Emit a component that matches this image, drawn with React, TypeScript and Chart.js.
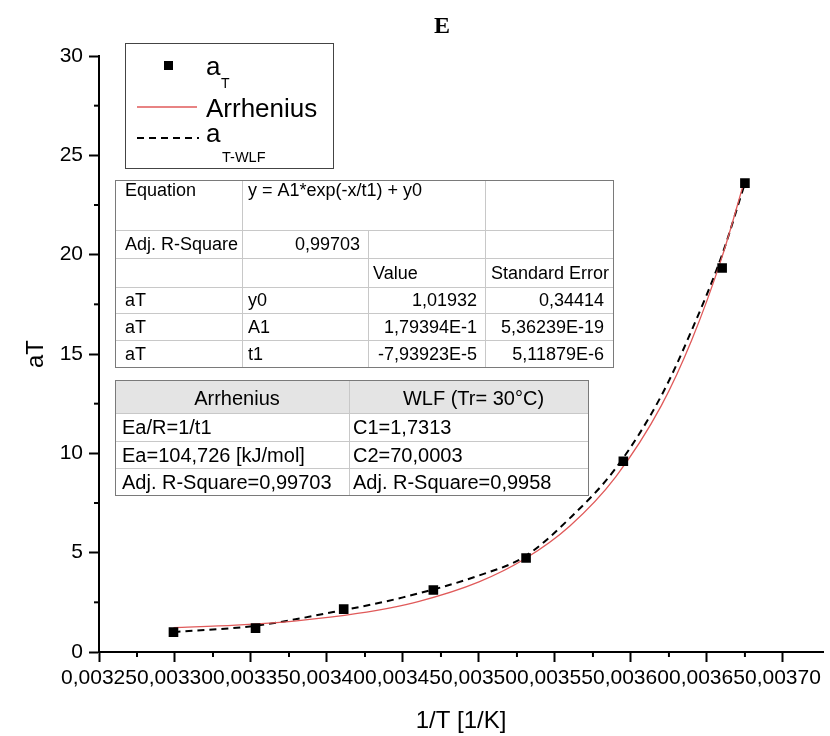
import React, { useEffect, useRef } from 'react';
import { Chart, registerables } from 'chart.js';

Chart.register(...registerables);

// ---------- data ----------
const xTickValues = [0.00325, 0.0033, 0.00335, 0.0034, 0.00345, 0.0035, 0.00355, 0.0036, 0.00365, 0.0037];
const yTickValues = [0, 5, 10, 15, 20, 25, 30];

// measured a_T points
const invT = [0.003299, 0.003353, 0.003411, 0.00347, 0.003531, 0.003595, 0.00366, 0.003675];
const aT = [1.0, 1.2, 2.16, 3.12, 4.73, 9.6, 19.33, 23.6];

// Arrhenius fit curve
const arrX = [0.003299, 0.00334, 0.00338, 0.00342, 0.00346, 0.0035, 0.00353, 0.00356, 0.00359, 0.00362, 0.00364, 0.00366, 0.003675];
const arrY = [1.23, 1.35, 1.57, 1.94, 2.54, 3.53, 4.68, 6.36, 8.82, 12.4, 15.7, 19.9, 23.8];

// WLF curve
const wlfX = [0.003299, 0.003353, 0.0034, 0.00345, 0.0035, 0.00353, 0.00356, 0.00359, 0.00362, 0.00364, 0.00366, 0.003675];
const wlfY = [1.0, 1.32, 1.95, 2.75, 3.85, 4.8, 6.75, 9.25, 12.9, 16.2, 20.0, 23.6];

// texts
const chartTitle = 'E';
const xTitle = '1/T [1/K]';
const yTitle = 'aT';
const legendNames = ['Arrhenius'];
const fitEquation = ['Equation', 'y = A1*exp(-x/t1) + y0'];
const fitAdjR = ['Adj. R-Square', '0,99703'];
const fitColHeaders = ['Value', 'Standard Error'];
const fitDep = 'aT';
const fitParamNames = ['y0', 'A1', 't1'];
const fitValues = ['1,01932', '1,79394E-1', '-7,93923E-5'];
const fitErrors = ['0,34414', '5,36239E-19', '5,11879E-6'];
const modelHeaders = ['Arrhenius', 'WLF (Tr= 30°C)'];
const arrheniusRows = ['Ea/R=1/t1', 'Ea=104,726 [kJ/mol]', 'Adj. R-Square=0,99703'];
const wlfRows = ['C1=1,7313', 'C2=70,0003', 'Adj. R-Square=0,9958'];

const SANS = '"Liberation Sans", Arial, Helvetica, sans-serif';

function hLine(ctx: CanvasRenderingContext2D, x1: number, x2: number, y: number) {
  ctx.beginPath();
  ctx.moveTo(x1, y + 0.5);
  ctx.lineTo(x2, y + 0.5);
  ctx.stroke();
}
function vLine(ctx: CanvasRenderingContext2D, x: number, y1: number, y2: number) {
  ctx.beginPath();
  ctx.moveTo(x + 0.5, y1);
  ctx.lineTo(x + 0.5, y2);
  ctx.stroke();
}

const overlayPlugin = {
  id: 'overlay',
  afterDraw(chart: any) {
    const ctx: CanvasRenderingContext2D = chart.ctx;
    const xs = chart.scales.x;
    const ys = chart.scales.y;
    const area = chart.chartArea;
    ctx.save();

    // minor ticks
    ctx.strokeStyle = '#000';
    ctx.lineWidth = 2;
    for (let i = 0; i < yTickValues.length - 1; i++) {
      const py = ys.getPixelForValue((yTickValues[i] + yTickValues[i + 1]) / 2);
      ctx.beginPath();
      ctx.moveTo(area.left - 5, py);
      ctx.lineTo(area.left, py);
      ctx.stroke();
    }
    for (let i = 0; i < xTickValues.length - 1; i++) {
      const px = xs.getPixelForValue((xTickValues[i] + xTickValues[i + 1]) / 2);
      ctx.beginPath();
      ctx.moveTo(px, area.bottom);
      ctx.lineTo(px, area.bottom + 5);
      ctx.stroke();
    }

    // title
    ctx.fillStyle = '#000';
    ctx.font = 'bold 24px "Liberation Serif", "Times New Roman", serif';
    ctx.textAlign = 'center';
    ctx.textBaseline = 'alphabetic';
    ctx.fillText(chartTitle, 442, 33);

    // axis titles
    ctx.font = `24px ${SANS}`;
    ctx.textBaseline = 'middle';
    ctx.fillText(xTitle, (area.left + area.right) / 2, 721);
    ctx.save();
    ctx.translate(36, (area.top + area.bottom) / 2);
    ctx.rotate(-Math.PI / 2);
    ctx.fillText(yTitle, 0, 0);
    ctx.restore();

    // legend
    ctx.textAlign = 'left';
    ctx.textBaseline = 'alphabetic';
    ctx.fillStyle = '#fff';
    ctx.fillRect(125, 43, 208, 125);
    ctx.strokeStyle = '#444';
    ctx.lineWidth = 1;
    ctx.strokeRect(125.5, 43.5, 208, 125);
    ctx.fillStyle = '#000';
    ctx.fillRect(164, 61, 9, 9);
    ctx.font = `26px ${SANS}`;
    ctx.fillText('a', 206, 75);
    ctx.font = `14px ${SANS}`;
    ctx.fillText('T', 221, 88);
    ctx.strokeStyle = '#e05a5a';
    ctx.lineWidth = 1.3;
    ctx.beginPath();
    ctx.moveTo(137, 107);
    ctx.lineTo(197, 107);
    ctx.stroke();
    ctx.font = `26px ${SANS}`;
    ctx.fillText(legendNames[0], 206, 117);
    ctx.strokeStyle = '#000';
    ctx.lineWidth = 2;
    ctx.setLineDash([7, 5]);
    ctx.beginPath();
    ctx.moveTo(137, 138);
    ctx.lineTo(199, 138);
    ctx.stroke();
    ctx.setLineDash([]);
    ctx.fillText('a', 206, 142);
    ctx.font = `14.5px ${SANS}`;
    ctx.fillText('T-WLF', 222, 162);

    // ---------- fit table ----------
    const c1 = [115, 242, 368, 485, 613];
    const r1 = [180, 230, 258, 287, 313, 340, 367];
    ctx.fillStyle = '#fff';
    ctx.fillRect(c1[0], r1[0], c1[4] - c1[0], r1[6] - r1[0]);
    ctx.strokeStyle = '#c8c8c8';
    ctx.lineWidth = 1;
    for (let i = 1; i < r1.length - 1; i++) hLine(ctx, c1[0], c1[4], r1[i]);
    vLine(ctx, c1[1], r1[0], r1[6]);
    vLine(ctx, c1[2], r1[1], r1[6]);
    vLine(ctx, c1[3], r1[0], r1[6]);
    ctx.strokeStyle = '#7a7a7a';
    ctx.strokeRect(c1[0] + 0.5, r1[0] + 0.5, c1[4] - c1[0], r1[6] - r1[0]);
    ctx.fillStyle = '#000';
    ctx.font = `18px ${SANS}`;
    ctx.textAlign = 'left';
    ctx.fillText(fitEquation[0], 125, 196);
    ctx.fillText(fitEquation[1], 248, 196);
    const mid = (i: number) => (r1[i] + r1[i + 1]) / 2 + 6;
    ctx.fillText(fitAdjR[0], 125, mid(1));
    ctx.textAlign = 'right';
    ctx.fillText(fitAdjR[1], 360, mid(1));
    ctx.textAlign = 'left';
    ctx.fillText(fitColHeaders[0], 373, mid(2));
    ctx.fillText(fitColHeaders[1], 491, mid(2));
    for (let k = 0; k < fitParamNames.length; k++) {
      const y = mid(3 + k);
      ctx.textAlign = 'left';
      ctx.fillText(fitDep, 125, y);
      ctx.fillText(fitParamNames[k], 248, y);
      ctx.textAlign = 'right';
      ctx.fillText(fitValues[k], 477, y);
      ctx.fillText(fitErrors[k], 604, y);
    }

    // ---------- model table ----------
    const c2 = [115, 349, 588];
    const r2 = [380, 413, 441, 468, 495];
    ctx.fillStyle = '#fff';
    ctx.fillRect(c2[0], r2[0], c2[2] - c2[0], r2[4] - r2[0]);
    ctx.fillStyle = '#e4e4e4';
    ctx.fillRect(c2[0], r2[0], c2[2] - c2[0], r2[1] - r2[0]);
    ctx.strokeStyle = '#c8c8c8';
    for (let i = 1; i < r2.length - 1; i++) hLine(ctx, c2[0], c2[2], r2[i]);
    vLine(ctx, c2[1], r2[0], r2[4]);
    ctx.strokeStyle = '#7a7a7a';
    ctx.strokeRect(c2[0] + 0.5, r2[0] + 0.5, c2[2] - c2[0], r2[4] - r2[0]);
    ctx.fillStyle = '#000';
    ctx.font = `20px ${SANS}`;
    ctx.textAlign = 'center';
    ctx.fillText(modelHeaders[0], (c2[0] + c2[1]) / 2 + 5, 405);
    ctx.fillText(modelHeaders[1], (c2[1] + c2[2]) / 2 + 5, 405);
    ctx.textAlign = 'left';
    for (let k = 0; k < arrheniusRows.length; k++) {
      const y = (r2[k + 1] + r2[k + 2]) / 2 + 7;
      ctx.fillText(arrheniusRows[k], 122, y);
      ctx.fillText(wlfRows[k], 353, y);
    }

    ctx.restore();
  },
};

export default function App() {
  const ref = useRef<HTMLCanvasElement>(null);
  useEffect(() => {
    const canvas = ref.current;
    if (!canvas) return;
    const fmtX = (v: number) => v.toFixed(5).replace('.', ',');
    const chart = new Chart(canvas, {
      type: 'scatter',
      data: {
        datasets: [
          {
            label: 'aT',
            data: invT.map((x, i) => ({ x, y: aT[i] })),
            showLine: false,
            pointStyle: 'rect',
            pointRadius: 6.8,
            pointBorderWidth: 0,
            backgroundColor: '#000',
            borderColor: '#000',
          },
          {
            label: 'Arrhenius',
            data: arrX.map((x, i) => ({ x, y: arrY[i] })),
            showLine: true,
            borderColor: '#e05a5a',
            borderWidth: 1.3,
            pointRadius: 0,
            cubicInterpolationMode: 'monotone',
            fill: false,
          },
          {
            label: 'aT-WLF',
            data: wlfX.map((x, i) => ({ x, y: wlfY[i] })),
            showLine: true,
            borderColor: '#000',
            borderWidth: 2,
            borderDash: [7, 5],
            pointRadius: 0,
            cubicInterpolationMode: 'monotone',
            fill: false,
          },
        ],
      } as any,
      options: {
        animation: false,
        responsive: false,
        devicePixelRatio: 1,
        layout: { padding: { top: 56, left: 0, right: 0, bottom: 0 } },
        plugins: {
          legend: { display: false },
          title: { display: false },
          tooltip: { enabled: false },
        },
        scales: {
          x: {
            type: 'linear',
            min: 0.00325,
            max: 0.0037265,
            afterBuildTicks: (s: any) => {
              s.ticks = xTickValues.map((value) => ({ value }));
            },
            afterFit: (s: any) => {
              s.height = 84;
              s.paddingLeft = 0;
              s.paddingRight = 0;
            },
            ticks: {
              autoSkip: false,
              maxRotation: 0,
              minRotation: 0,
              padding: 4,
              color: '#000',
              font: { family: SANS, size: 21 },
              callback: (v: any) => fmtX(Number(v)),
            },
            grid: { drawOnChartArea: false, drawTicks: true, tickLength: 10, tickWidth: 2, tickColor: '#000' },
            border: { display: true, color: '#000', width: 2 },
          },
          y: {
            type: 'linear',
            min: 0,
            max: 30,
            afterBuildTicks: (s: any) => {
              s.ticks = yTickValues.map((value) => ({ value }));
            },
            afterFit: (s: any) => {
              s.width = 99;
              s.paddingTop = 0;
              s.paddingBottom = 0;
            },
            ticks: {
              autoSkip: false,
              padding: 6,
              color: '#000',
              font: { family: SANS, size: 21 },
              callback: (v: any) => String(v),
            },
            grid: { drawOnChartArea: false, drawTicks: true, tickLength: 10, tickWidth: 2, tickColor: '#000' },
            border: { display: true, color: '#000', width: 2 },
          },
        },
      } as any,
      plugins: [overlayPlugin],
    });
    return () => chart.destroy();
  }, []);
  return (
    <div style={{ position: 'absolute', left: 0, top: 0, width: 830, height: 736, background: '#fff' }}>
      <canvas ref={ref} width={830} height={736} style={{ width: 830, height: 736, display: 'block' }} />
    </div>
  );
}
